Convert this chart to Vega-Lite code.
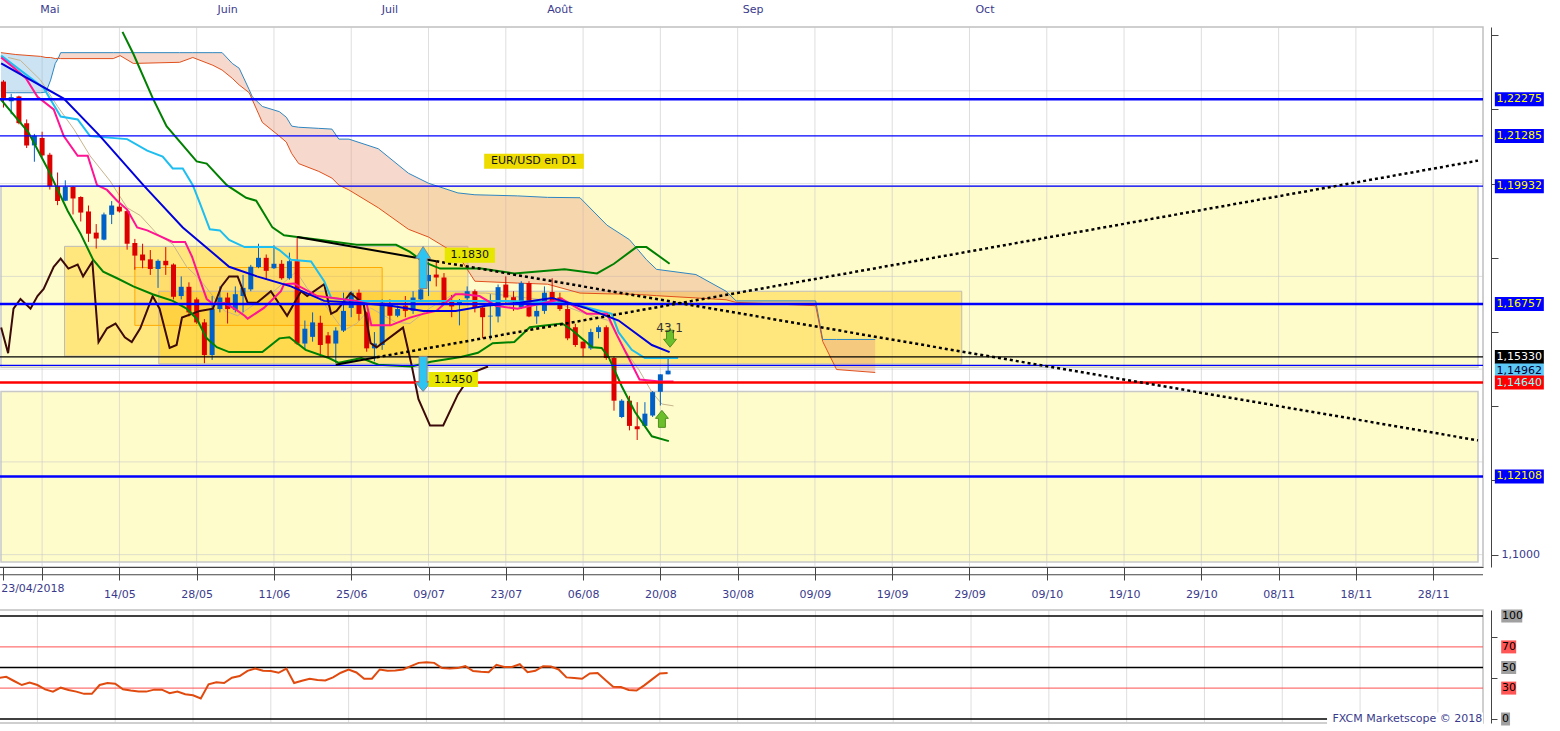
{
"$schema": "https://vega.github.io/schema/vega-lite/v6.json",
"padding": {"left": -7, "top": 2, "right": 0, "bottom": 0},
"background": "#FFFFFF",
"spacing": 43,
"bounds": "flush",
"config": {"view": {"stroke": "#C0C0C0", "strokeWidth": 1.5}, "aria": false},
"datasets": {
"zones": [{"i0": -0.32, "i1": 190.8, "v0": 1.1505, "v1": 1.19932}, {"i0": -0.32, "i1": 190.8, "v0": 1.09802, "v1": 1.144}],
"rects": [{"i0": 7.9, "i1": 60.1, "v0": 1.1535, "v1": 1.1831, "k": "g"}, {"i0": 20.1, "i1": 124.0, "v0": 1.1514, "v1": 1.171, "k": "g"}, {"i0": 17.0, "i1": 49.0, "v0": 1.1618, "v1": 1.1774, "k": "o"}],
"hgrid": [{"v": 1.1}, {"v": 1.125}, {"v": 1.15}, {"v": 1.175}, {"v": 1.2}, {"v": 1.225}],
"vgrid": [{"i": 5}, {"i": 15}, {"i": 25}, {"i": 35}, {"i": 45}, {"i": 55}, {"i": 65}, {"i": 75}, {"i": 85}, {"i": 95}, {"i": 105}, {"i": 115}, {"i": 125}, {"i": 135}, {"i": 145}, {"i": 155}, {"i": 165}, {"i": 175}, {"i": 185}],
"months": [{"i": 6, "t": "Mai"}, {"i": 29, "t": "Juin"}, {"i": 50, "t": "Juil"}, {"i": 72, "t": "Août"}, {"i": 97, "t": "Sep"}, {"i": 127, "t": "Oct"}],
"cloud": [
{"g": "u", "i": -0.32, "a": 1.2245, "b": 1.2353}, {"g": "u", "i": 1.6, "a": 1.2245, "b": 1.2348}, {"g": "u", "i": 4.8, "a": 1.2245, "b": 1.2343}, {"g": "u", "i": 5.5, "a": 1.2247, "b": 1.234}, {"g": "u", "i": 6.1, "a": 1.2279, "b": 1.234}, {"g": "u", "i": 6.7, "a": 1.2324, "b": 1.2337}, {"g": "u", "i": 7.1, "a": 1.2338, "b": 1.2338},
{"g": "d", "i": 7.1, "a": 1.2338, "b": 1.2338}, {"g": "d", "i": 7.4, "a": 1.2353, "b": 1.2337}, {"g": "d", "i": 14.2, "a": 1.2353, "b": 1.2337}, {"g": "d", "i": 15.1, "a": 1.2353, "b": 1.2345}, {"g": "d", "i": 16.8, "a": 1.2353, "b": 1.2324}, {"g": "d", "i": 22.8, "a": 1.2353, "b": 1.2327}, {"g": "d", "i": 24.5, "a": 1.2353, "b": 1.234}, {"g": "d", "i": 27.1, "a": 1.2353, "b": 1.2319}, {"g": "d", "i": 28.3, "a": 1.2353, "b": 1.2306}, {"g": "d", "i": 29.6, "a": 1.2324, "b": 1.2284}, {"g": "d", "i": 30.5, "a": 1.2311, "b": 1.2266}, {"g": "d", "i": 31.8, "a": 1.2253, "b": 1.2245}, {"g": "d", "i": 32.2, "a": 1.2234, "b": 1.2226}, {"g": "d", "i": 33.5, "a": 1.2208, "b": 1.2165}, {"g": "d", "i": 35.7, "a": 1.2194, "b": 1.2128}, {"g": "d", "i": 36.6, "a": 1.2179, "b": 1.2112}, {"g": "d", "i": 37.3, "a": 1.2155, "b": 1.2081}, {"g": "d", "i": 38.2, "a": 1.2152, "b": 1.2054}, {"g": "d", "i": 40.8, "a": 1.2149, "b": 1.2033}, {"g": "d", "i": 42.5, "a": 1.2147, "b": 1.2015}, {"g": "d", "i": 43.4, "a": 1.212, "b": 1.1996}, {"g": "d", "i": 44.7, "a": 1.212, "b": 1.1983}, {"g": "d", "i": 48.5, "a": 1.2094, "b": 1.1935}, {"g": "d", "i": 52.4, "a": 1.2028, "b": 1.1877}, {"g": "d", "i": 55.0, "a": 1.2001, "b": 1.1856}, {"g": "d", "i": 58.8, "a": 1.1975, "b": 1.1808}, {"g": "d", "i": 61.0, "a": 1.197, "b": 1.1737}, {"g": "d", "i": 66.5, "a": 1.1967, "b": 1.1732}, {"g": "d", "i": 70.4, "a": 1.1963, "b": 1.1729}, {"g": "d", "i": 74.6, "a": 1.1962, "b": 1.1705}, {"g": "d", "i": 78.1, "a": 1.1888, "b": 1.1703}, {"g": "d", "i": 81.0, "a": 1.1849, "b": 1.1702}, {"g": "d", "i": 83.2, "a": 1.1795, "b": 1.17}, {"g": "d", "i": 84.5, "a": 1.1769, "b": 1.1698}, {"g": "d", "i": 89.6, "a": 1.1755, "b": 1.1692}, {"g": "d", "i": 93.5, "a": 1.171, "b": 1.1687}, {"g": "d", "i": 94.8, "a": 1.1684, "b": 1.168}, {"g": "d", "i": 105.1, "a": 1.1684, "b": 1.1671}, {"g": "d", "i": 106.0, "a": 1.158, "b": 1.1575}, {"g": "d", "i": 107.8, "a": 1.158, "b": 1.1499}, {"g": "d", "i": 112.8, "a": 1.158, "b": 1.1491}],
"hl": [{"v": 1.22275, "k": "b2"}, {"v": 1.21285, "k": "b1"}, {"v": 1.19932, "k": "b1"}, {"v": 1.16757, "k": "b2"}, {"v": 1.1533, "k": "k"}, {"v": 1.151, "k": "b1"}, {"v": 1.1464, "k": "r"}, {"v": 1.12108, "k": "b2"}],
"ma": [{"i": -0.3, "v": 1.2324}, {"i": 7.8, "v": 1.2229}, {"i": 12.5, "v": 1.2128}, {"i": 18.1, "v": 1.1996}, {"i": 23.2, "v": 1.1882}, {"i": 29.2, "v": 1.1776}, {"i": 32.8, "v": 1.175}, {"i": 37.2, "v": 1.1723}, {"i": 41.5, "v": 1.1684}, {"i": 45.7, "v": 1.1679}, {"i": 50.1, "v": 1.1671}, {"i": 54.3, "v": 1.1657}, {"i": 58.5, "v": 1.1657}, {"i": 62.4, "v": 1.1671}, {"i": 66.8, "v": 1.1679}, {"i": 71.0, "v": 1.1692}, {"i": 75.3, "v": 1.1665}, {"i": 79.6, "v": 1.1631}, {"i": 83.9, "v": 1.1565}, {"i": 86.2, "v": 1.1546}],
"kij": [{"i": -0.3, "v": 1.2345}, {"i": 5.2, "v": 1.2258}, {"i": 7.4, "v": 1.2181}, {"i": 9.6, "v": 1.2173}, {"i": 11.2, "v": 1.2128}, {"i": 16.0, "v": 1.212}, {"i": 18.6, "v": 1.2089}, {"i": 20.6, "v": 1.2073}, {"i": 21.9, "v": 1.2041}, {"i": 23.2, "v": 1.2041}, {"i": 24.5, "v": 1.1996}, {"i": 25.4, "v": 1.1948}, {"i": 26.7, "v": 1.1877}, {"i": 28.0, "v": 1.1874}, {"i": 29.2, "v": 1.1848}, {"i": 31.2, "v": 1.1829}, {"i": 35.0, "v": 1.1829}, {"i": 35.7, "v": 1.1821}, {"i": 37.2, "v": 1.1795}, {"i": 39.8, "v": 1.179}, {"i": 41.5, "v": 1.1737}, {"i": 42.4, "v": 1.1692}, {"i": 45.7, "v": 1.1684}, {"i": 64.6, "v": 1.1684}, {"i": 73.2, "v": 1.1679}, {"i": 78.7, "v": 1.1649}, {"i": 79.6, "v": 1.1599}, {"i": 81.3, "v": 1.1552}, {"i": 83.0, "v": 1.153}, {"i": 87.3, "v": 1.153}],
"ten": [{"i": -0.3, "v": 1.234}, {"i": 1.3, "v": 1.2313}, {"i": 2.9, "v": 1.2284}, {"i": 4.4, "v": 1.2234}, {"i": 6.5, "v": 1.22}, {"i": 7.8, "v": 1.2128}, {"i": 9.6, "v": 1.2075}, {"i": 10.9, "v": 1.2075}, {"i": 12.1, "v": 1.1996}, {"i": 13.4, "v": 1.1983}, {"i": 14.7, "v": 1.1954}, {"i": 16.0, "v": 1.193}, {"i": 17.3, "v": 1.1882}, {"i": 18.6, "v": 1.1874}, {"i": 21.9, "v": 1.1843}, {"i": 23.5, "v": 1.1843}, {"i": 24.4, "v": 1.1803}, {"i": 25.4, "v": 1.1742}, {"i": 26.3, "v": 1.1689}, {"i": 27.1, "v": 1.1676}, {"i": 28.6, "v": 1.1678}, {"i": 29.9, "v": 1.1663}, {"i": 31.2, "v": 1.1644}, {"i": 31.6, "v": 1.1636}, {"i": 33.7, "v": 1.1665}, {"i": 35.9, "v": 1.171}, {"i": 36.3, "v": 1.1729}, {"i": 37.6, "v": 1.1731}, {"i": 40.6, "v": 1.1697}, {"i": 45.7, "v": 1.1684}, {"i": 47.0, "v": 1.1676}, {"i": 47.6, "v": 1.1618}, {"i": 50.1, "v": 1.1618}, {"i": 52.6, "v": 1.1639}, {"i": 54.3, "v": 1.1649}, {"i": 56.0, "v": 1.1657}, {"i": 58.5, "v": 1.1702}, {"i": 59.4, "v": 1.1702}, {"i": 61.6, "v": 1.1697}, {"i": 63.7, "v": 1.1671}, {"i": 66.5, "v": 1.1663}, {"i": 72.3, "v": 1.1689}, {"i": 75.5, "v": 1.1649}, {"i": 78.1, "v": 1.1649}, {"i": 79.4, "v": 1.1591}, {"i": 80.9, "v": 1.153}, {"i": 82.3, "v": 1.1472}, {"i": 84.9, "v": 1.1467}, {"i": 86.7, "v": 1.1467}],
"bbu": [{"i": 15.4, "v": 1.2409}, {"i": 16.8, "v": 1.235}, {"i": 19.3, "v": 1.2231}, {"i": 21.1, "v": 1.2155}, {"i": 25.0, "v": 1.206}, {"i": 26.3, "v": 1.2054}, {"i": 28.9, "v": 1.1996}, {"i": 31.4, "v": 1.1962}, {"i": 32.7, "v": 1.1954}, {"i": 34.8, "v": 1.1882}, {"i": 36.3, "v": 1.1861}, {"i": 38.0, "v": 1.1856}, {"i": 41.1, "v": 1.1848}, {"i": 45.7, "v": 1.1835}, {"i": 50.8, "v": 1.1835}, {"i": 52.6, "v": 1.1816}, {"i": 54.3, "v": 1.179}, {"i": 56.5, "v": 1.1771}, {"i": 61.8, "v": 1.1771}, {"i": 66.1, "v": 1.1758}, {"i": 72.6, "v": 1.1769}, {"i": 76.8, "v": 1.1758}, {"i": 79.0, "v": 1.1784}, {"i": 81.9, "v": 1.1829}, {"i": 83.2, "v": 1.1829}, {"i": 86.2, "v": 1.1784}],
"bbl": [{"i": -0.3, "v": 1.2226}, {"i": 3.2, "v": 1.2139}, {"i": 5.7, "v": 1.2041}, {"i": 8.3, "v": 1.1927}, {"i": 10.0, "v": 1.1864}, {"i": 11.6, "v": 1.1795}, {"i": 12.9, "v": 1.1763}, {"i": 14.7, "v": 1.1745}, {"i": 16.8, "v": 1.1723}, {"i": 19.3, "v": 1.1702}, {"i": 21.9, "v": 1.1684}, {"i": 23.7, "v": 1.1663}, {"i": 25.0, "v": 1.1636}, {"i": 26.3, "v": 1.1583}, {"i": 27.6, "v": 1.1559}, {"i": 29.2, "v": 1.1546}, {"i": 33.5, "v": 1.1546}, {"i": 35.7, "v": 1.1583}, {"i": 37.0, "v": 1.1586}, {"i": 39.1, "v": 1.1552}, {"i": 42.1, "v": 1.153}, {"i": 43.4, "v": 1.1517}, {"i": 46.3, "v": 1.153}, {"i": 48.5, "v": 1.1512}, {"i": 52.8, "v": 1.1507}, {"i": 55.3, "v": 1.152}, {"i": 59.2, "v": 1.1533}, {"i": 61.4, "v": 1.1544}, {"i": 63.3, "v": 1.157}, {"i": 66.1, "v": 1.1573}, {"i": 68.1, "v": 1.1613}, {"i": 72.3, "v": 1.1623}, {"i": 73.6, "v": 1.1605}, {"i": 76.2, "v": 1.1559}, {"i": 77.4, "v": 1.1557}, {"i": 78.3, "v": 1.1533}, {"i": 80.0, "v": 1.1454}, {"i": 81.7, "v": 1.1385}, {"i": 83.9, "v": 1.1319}, {"i": 86.1, "v": 1.1306}],
"chk": [{"i": -0.3, "v": 1.1612}, {"i": 0.6, "v": 1.1543}, {"i": 1.3, "v": 1.1663}, {"i": 2.2, "v": 1.1689}, {"i": 3.5, "v": 1.1663}, {"i": 4.4, "v": 1.1697}, {"i": 5.2, "v": 1.1716}, {"i": 6.5, "v": 1.1776}, {"i": 7.4, "v": 1.1798}, {"i": 8.4, "v": 1.1771}, {"i": 9.6, "v": 1.1782}, {"i": 10.3, "v": 1.175}, {"i": 11.5, "v": 1.179}, {"i": 12.3, "v": 1.1573}, {"i": 13.4, "v": 1.161}, {"i": 14.5, "v": 1.1623}, {"i": 15.7, "v": 1.1586}, {"i": 16.6, "v": 1.1573}, {"i": 17.7, "v": 1.161}, {"i": 19.3, "v": 1.1697}, {"i": 20.2, "v": 1.1663}, {"i": 21.5, "v": 1.1557}, {"i": 22.4, "v": 1.1565}, {"i": 23.1, "v": 1.1639}, {"i": 25.4, "v": 1.1657}, {"i": 27.1, "v": 1.1663}, {"i": 28.2, "v": 1.1723}, {"i": 29.2, "v": 1.175}, {"i": 30.3, "v": 1.175}, {"i": 31.6, "v": 1.1679}, {"i": 32.8, "v": 1.1679}, {"i": 34.6, "v": 1.171}, {"i": 36.7, "v": 1.1644}, {"i": 38.5, "v": 1.171}, {"i": 39.3, "v": 1.1697}, {"i": 41.5, "v": 1.1729}, {"i": 42.4, "v": 1.1649}, {"i": 43.1, "v": 1.1657}, {"i": 44.9, "v": 1.1705}, {"i": 46.6, "v": 1.1676}, {"i": 47.5, "v": 1.157}, {"i": 48.3, "v": 1.1559}, {"i": 51.7, "v": 1.1612}, {"i": 52.8, "v": 1.1512}, {"i": 53.7, "v": 1.1419}, {"i": 55.2, "v": 1.1348}, {"i": 56.9, "v": 1.1348}, {"i": 58.8, "v": 1.1432}, {"i": 60.7, "v": 1.1491}, {"i": 62.7, "v": 1.1507}],
"tan": [{"i": 0.6, "v": 1.234}, {"i": 2.2, "v": 1.2332}, {"i": 4.8, "v": 1.2279}, {"i": 7.0, "v": 1.2208}, {"i": 9.1, "v": 1.2147}, {"i": 11.2, "v": 1.2075}, {"i": 13.8, "v": 1.2007}, {"i": 16.0, "v": 1.1935}, {"i": 17.7, "v": 1.1914}, {"i": 19.9, "v": 1.1864}, {"i": 21.9, "v": 1.1837}, {"i": 23.7, "v": 1.1776}, {"i": 25.4, "v": 1.1742}, {"i": 28.6, "v": 1.1657}, {"i": 30.3, "v": 1.1644}, {"i": 35.0, "v": 1.171}, {"i": 37.9, "v": 1.1763}, {"i": 39.3, "v": 1.1718}, {"i": 41.5, "v": 1.1676}, {"i": 44.0, "v": 1.1604}, {"i": 45.7, "v": 1.1623}, {"i": 47.5, "v": 1.1665}, {"i": 50.8, "v": 1.1626}, {"i": 52.6, "v": 1.1623}, {"i": 55.2, "v": 1.1665}, {"i": 58.5, "v": 1.1705}, {"i": 62.4, "v": 1.1705}, {"i": 71.0, "v": 1.1684}, {"i": 75.3, "v": 1.1649}, {"i": 78.3, "v": 1.1631}, {"i": 80.4, "v": 1.1552}, {"i": 82.2, "v": 1.1499}, {"i": 83.9, "v": 1.1438}, {"i": 85.2, "v": 1.1406}, {"i": 86.7, "v": 1.1401}],
"trend": [{"t": "t1", "p": "s", "i": 38.0, "v": 1.1856}, {"t": "t1", "p": "s", "i": 56.0, "v": 1.1791}, {"t": "t1", "p": "d", "i": 56.0, "v": 1.1791}, {"t": "t1", "p": "d", "i": 190.8, "v": 1.1308}, {"t": "t2", "p": "s", "i": 43.0, "v": 1.1512}, {"t": "t2", "p": "s", "i": 48.3, "v": 1.1532}, {"t": "t2", "p": "d", "i": 48.3, "v": 1.1532}, {"t": "t2", "p": "d", "i": 190.8, "v": 1.2062}],
"candles": [
{"i":0,"o":1.2275,"h":1.2279,"l":1.2205,"c":1.2231},{"i":1,"o":1.2222,"h":1.2242,"l":1.2187,"c":1.2233},{"i":2,"o":1.2235,"h":1.2237,"l":1.216,"c":1.2163},{"i":3,"o":1.2163,"h":1.2173,"l":1.2096,"c":1.2103},{"i":4,"o":1.2103,"h":1.2134,"l":1.2059,"c":1.2129},{"i":5,"o":1.2123,"h":1.214,"l":1.2072,"c":1.2076},{"i":6,"o":1.2078,"h":1.2083,"l":1.1984,"c":1.1993},{"i":7,"o":1.1993,"h":1.203,"l":1.1942,"c":1.1953},{"i":8,"o":1.1954,"h":1.2009,"l":1.1953,"c":1.1991},{"i":9,"o":1.1991,"h":1.1993,"l":1.1917,"c":1.196},
{"i":10,"o":1.1964,"h":1.1966,"l":1.1898,"c":1.1922},{"i":11,"o":1.1925,"h":1.1941,"l":1.1843,"c":1.1865},{"i":12,"o":1.1868,"h":1.1891,"l":1.1825,"c":1.1852},{"i":13,"o":1.1849,"h":1.1922,"l":1.1847,"c":1.1917},{"i":14,"o":1.1916,"h":1.1953,"l":1.1891,"c":1.1941},{"i":15,"o":1.1938,"h":1.1995,"l":1.1922,"c":1.1925},{"i":16,"o":1.1926,"h":1.1931,"l":1.1822,"c":1.1838},{"i":17,"o":1.184,"h":1.1851,"l":1.1768,"c":1.1806},{"i":18,"o":1.1809,"h":1.1838,"l":1.1772,"c":1.1793},{"i":19,"o":1.1796,"h":1.1821,"l":1.1754,"c":1.177},
{"i":20,"o":1.177,"h":1.1796,"l":1.1719,"c":1.1792},{"i":21,"o":1.1792,"h":1.1829,"l":1.1754,"c":1.178},{"i":22,"o":1.1782,"h":1.1785,"l":1.1688,"c":1.1695},{"i":23,"o":1.1697,"h":1.175,"l":1.1688,"c":1.1722},{"i":24,"o":1.1722,"h":1.1734,"l":1.1642,"c":1.1653},{"i":25,"o":1.1688,"h":1.1693,"l":1.1622,"c":1.1626},{"i":26,"o":1.1626,"h":1.1635,"l":1.1516,"c":1.1538},{"i":27,"o":1.1538,"h":1.1697,"l":1.1525,"c":1.1663},{"i":28,"o":1.1662,"h":1.1723,"l":1.1653,"c":1.1693},{"i":29,"o":1.1693,"h":1.1706,"l":1.1623,"c":1.1662},
{"i":30,"o":1.166,"h":1.1723,"l":1.1653,"c":1.1702},{"i":31,"o":1.1697,"h":1.1754,"l":1.1653,"c":1.1719},{"i":32,"o":1.1715,"h":1.1781,"l":1.171,"c":1.1776},{"i":33,"o":1.1775,"h":1.1838,"l":1.1772,"c":1.18},{"i":34,"o":1.18,"h":1.1809,"l":1.1741,"c":1.1765},{"i":35,"o":1.1772,"h":1.1834,"l":1.177,"c":1.1784},{"i":36,"o":1.1784,"h":1.1794,"l":1.1741,"c":1.1745},{"i":37,"o":1.1745,"h":1.1814,"l":1.1741,"c":1.1791},{"i":38,"o":1.1791,"h":1.1856,"l":1.1565,"c":1.1569},{"i":39,"o":1.1569,"h":1.1631,"l":1.1552,"c":1.1609},
{"i":40,"o":1.1587,"h":1.1653,"l":1.1574,"c":1.1626},{"i":41,"o":1.1625,"h":1.1644,"l":1.1534,"c":1.1565},{"i":42,"o":1.1591,"h":1.16,"l":1.1534,"c":1.1569},{"i":43,"o":1.1569,"h":1.1613,"l":1.1516,"c":1.1604},{"i":44,"o":1.1604,"h":1.1706,"l":1.16,"c":1.1657},{"i":45,"o":1.1665,"h":1.171,"l":1.164,"c":1.1706},{"i":46,"o":1.1706,"h":1.1715,"l":1.1631,"c":1.1649},{"i":47,"o":1.1653,"h":1.1655,"l":1.1547,"c":1.1556},{"i":48,"o":1.1556,"h":1.16,"l":1.1521,"c":1.1569},{"i":49,"o":1.1565,"h":1.1688,"l":1.1552,"c":1.1679},
{"i":50,"o":1.1675,"h":1.1688,"l":1.1618,"c":1.1644},{"i":51,"o":1.1644,"h":1.1671,"l":1.164,"c":1.1662},{"i":52,"o":1.1671,"h":1.1697,"l":1.164,"c":1.1657},{"i":53,"o":1.1657,"h":1.171,"l":1.1649,"c":1.1693},{"i":54,"o":1.1688,"h":1.1729,"l":1.1684,"c":1.1715},{"i":55,"o":1.1737,"h":1.179,"l":1.1697,"c":1.1754},{"i":56,"o":1.1755,"h":1.179,"l":1.1723,"c":1.1747},{"i":57,"o":1.1747,"h":1.1759,"l":1.1675,"c":1.1679},{"i":58,"o":1.1683,"h":1.17,"l":1.164,"c":1.1669},{"i":59,"o":1.1675,"h":1.1689,"l":1.1618,"c":1.1684},
{"i":60,"o":1.1691,"h":1.1723,"l":1.1684,"c":1.171},{"i":61,"o":1.171,"h":1.1715,"l":1.1653,"c":1.1666},{"i":62,"o":1.1666,"h":1.1671,"l":1.1583,"c":1.164},{"i":63,"o":1.1642,"h":1.1702,"l":1.1578,"c":1.1644},{"i":64,"o":1.1642,"h":1.1728,"l":1.1626,"c":1.1721},{"i":65,"o":1.1728,"h":1.175,"l":1.1679,"c":1.1693},{"i":66,"o":1.1694,"h":1.171,"l":1.1657,"c":1.1684},{"i":67,"o":1.1666,"h":1.1737,"l":1.1662,"c":1.1732},{"i":68,"o":1.1732,"h":1.1737,"l":1.164,"c":1.1642},{"i":69,"o":1.1642,"h":1.1671,"l":1.1622,"c":1.1657},
{"i":70,"o":1.1657,"h":1.1723,"l":1.1649,"c":1.1706},{"i":71,"o":1.1708,"h":1.1745,"l":1.1675,"c":1.1684},{"i":72,"o":1.1693,"h":1.1706,"l":1.1657,"c":1.1662},{"i":73,"o":1.1662,"h":1.1675,"l":1.1578,"c":1.1583},{"i":74,"o":1.1613,"h":1.1622,"l":1.156,"c":1.1565},{"i":75,"o":1.1574,"h":1.1575,"l":1.1534,"c":1.1556},{"i":76,"o":1.1556,"h":1.1609,"l":1.1552,"c":1.16},{"i":77,"o":1.16,"h":1.1618,"l":1.1583,"c":1.1613},{"i":78,"o":1.1613,"h":1.1618,"l":1.1525,"c":1.153},{"i":79,"o":1.153,"h":1.1534,"l":1.1388,"c":1.1415},
{"i":80,"o":1.1371,"h":1.1419,"l":1.1368,"c":1.1415},{"i":81,"o":1.1415,"h":1.1428,"l":1.1335,"c":1.1347},{"i":82,"o":1.1346,"h":1.1411,"l":1.1309,"c":1.1338},{"i":83,"o":1.1347,"h":1.1411,"l":1.1345,"c":1.138},{"i":84,"o":1.1375,"h":1.1441,"l":1.1371,"c":1.1438},{"i":85,"o":1.1439,"h":1.1486,"l":1.1402,"c":1.1486},{"i":86,"o":1.1486,"h":1.1532,"l":1.1486,"c":1.1496}],
"plabels": [{"v": 1.22275, "t": "1,22275", "k": "blue"}, {"v": 1.21285, "t": "1,21285", "k": "blue"}, {"v": 1.19932, "t": "1,19932", "k": "blue"}, {"v": 1.16757, "t": "1,16757", "k": "blue"}, {"v": 1.1533, "t": "1,15330", "k": "black"}, {"v": 1.14962, "t": "1,14962", "k": "cyan"}, {"v": 1.1464, "t": "1,14640", "k": "red"}, {"v": 1.12108, "t": "1,12108", "k": "blue"}],
"ann": [{"i0": 57.1, "i1": 63.6, "ic": 60.35, "v": 1.1807, "t": "1.1830", "k": "yel"}, {"i0": 55.0, "i1": 61.4, "ic": 58.2, "v": 1.1472, "t": "1.1450", "k": "yel"}, {"i0": 62.2, "i1": 75.1, "ic": 68.65, "v": 1.206, "t": "EUR/USD en D1", "k": "yel2"}],
"rsi": [{"i":0,"r":39.7},{"i":1,"r":41.0},{"i":2,"r":36.9},{"i":3,"r":33.0},{"i":4,"r":35.3},{"i":5,"r":33.0},{"i":6,"r":28.8},{"i":7,"r":26.6},{"i":8,"r":30.4},{"i":9,"r":28.2},{"i":10,"r":26.6},{"i":11,"r":24.4},{"i":12,"r":24.4},{"i":13,"r":33.0},{"i":14,"r":34.9},{"i":15,"r":34.3},{"i":16,"r":28.8},{"i":17,"r":27.6},{"i":18,"r":26.6},{"i":19,"r":26.6},{"i":20,"r":28.5},{"i":21,"r":28.5},{"i":22,"r":25.0},{"i":23,"r":26.6},{"i":24,"r":24.0},{"i":25,"r":23.1},{"i":26,"r":19.9},{"i":27,"r":33.7},{"i":28,"r":35.6},{"i":29,"r":34.9},{"i":30,"r":40.1},{"i":31,"r":41.7},{"i":32,"r":46.8},{"i":33,"r":49.0},{"i":34,"r":46.8},{"i":35,"r":46.5},{"i":36,"r":44.9},{"i":37,"r":49.0},{"i":38,"r":34.9},{"i":39,"r":37.2},{"i":40,"r":39.1},{"i":41,"r":37.8},{"i":42,"r":37.5},{"i":43,"r":40.4},{"i":44,"r":44.9},{"i":45,"r":48.1},{"i":46,"r":45.2},{"i":47,"r":39.1},{"i":48,"r":39.1},{"i":49,"r":48.1},{"i":50,"r":46.8},{"i":51,"r":47.1},{"i":52,"r":48.1},{"i":53,"r":51.3},{"i":54,"r":54.5},{"i":55,"r":55.1},{"i":56,"r":54.5},{"i":57,"r":49.4},{"i":58,"r":49.0},{"i":59,"r":49.4},{"i":60,"r":51.3},{"i":61,"r":46.5},{"i":62,"r":45.8},{"i":63,"r":45.5},{"i":64,"r":52.6},{"i":65,"r":50.6},{"i":66,"r":50.6},{"i":67,"r":53.2},{"i":68,"r":45.5},{"i":69,"r":46.8},{"i":70,"r":51.3},{"i":71,"r":51.0},{"i":72,"r":48.1},{"i":73,"r":40.4},{"i":74,"r":39.7},{"i":75,"r":39.1},{"i":76,"r":44.2},{"i":77,"r":44.6},{"i":78,"r":37.8},{"i":79,"r":31.4},{"i":80,"r":31.1},{"i":81,"r":28.2},{"i":82,"r":27.6},{"i":83,"r":32.7},{"i":84,"r":38.5},{"i":85,"r":44.2},{"i":86,"r":44.6}],
"rlev": [{"lv": 100, "k": "k"}, {"lv": 70, "k": "r"}, {"lv": 50, "k": "k"}, {"lv": 30, "k": "r"}, {"lv": 0, "k": "k"}],
"rlabels": [{"lv": 100, "t": "100", "k": "gray"}, {"lv": 70, "t": "70", "k": "rred"}, {"lv": 50, "t": "50", "k": "gray"}, {"lv": 30, "t": "30", "k": "rred"}, {"lv": 0, "t": "0", "k": "gray"}]
},
"vconcat": [
{
"width": 1487, "height": 540,
"layer": [
{"data": {"name": "zones"}, "mark": {"type": "rect", "fill": "#FFFCCC", "stroke": "#C8C8C8", "strokeWidth": 1.5},
 "encoding": {"x": {"field": "i0", "type": "quantitative", "scale": {"domain": [-0.32, 190.8], "nice": false, "zero": false}}, "x2": {"field": "i1"},
  "y": {"field": "v0", "type": "quantitative", "scale": {"domain": [1.09802, 1.24087], "nice": false, "zero": false}}, "y2": {"field": "v1"}}},
{"data": {"name": "hgrid"}, "mark": {"type": "rule", "color": "#C8C8C8", "opacity": 0.6, "strokeWidth": 1},
 "encoding": {"y": {"field": "v", "type": "quantitative", "scale": {"domain": [1.09802, 1.24087], "nice": false, "zero": false},
  "axis": {"orient": "right", "offset": 8, "title": null, "grid": false, "labelOverlap": false,
   "values": [1.1, 1.1025, 1.105, 1.1075, 1.11, 1.1125, 1.115, 1.1175, 1.12, 1.1225, 1.125, 1.1275, 1.13, 1.1325, 1.135, 1.1375, 1.14, 1.1425, 1.145, 1.1475, 1.15, 1.1525, 1.155, 1.1575, 1.16, 1.1625, 1.165, 1.1675, 1.17, 1.1725, 1.175, 1.1775, 1.18, 1.1825, 1.185, 1.1875, 1.19, 1.1925, 1.195, 1.1975, 1.2, 1.2025, 1.205, 1.2075, 1.21, 1.2125, 1.215, 1.2175, 1.22, 1.2225, 1.225, 1.2275, 1.23, 1.2325, 1.235, 1.2375, 1.24],
   "domainColor": "#444444", "tickColor": "#444444", "tickSize": 7,
   "labelExpr": "(abs(datum.value*40 - round(datum.value*40)) < 0.001 && abs(datum.value-1.15) > 0.001 && abs(datum.value-1.2) > 0.001) ? replace(format(datum.value, '.4f'), '.', ',') : ''",
   "labelColor": "#3A3A8C", "labelFont": "DejaVu Sans", "labelFontSize": 11, "labelPadding": 3}}}},
{"data": {"name": "vgrid"}, "mark": {"type": "rule", "color": "#C8C8C8", "opacity": 0.6, "strokeWidth": 1},
 "encoding": {"x": {"field": "i", "type": "quantitative", "scale": {"domain": [-0.32, 190.8], "nice": false, "zero": false},
  "axis": {"orient": "bottom", "offset": 0, "title": null, "grid": false,
   "values": [0, 5, 15, 25, 35, 45, 55, 65, 75, 85, 95, 105, 115, 125, 135, 145, 155, 165, 175, 185],
   "domainColor": "#444444", "tickColor": "#444444", "tickSize": 13,
   "labelExpr": "(datum.value % 10 == 5 && datum.value >= 15) ? ['14/05','28/05','11/06','25/06','09/07','23/07','06/08','20/08','30/08','09/09','19/09','29/09','09/10','19/10','29/10','08/11','18/11','28/11'][(datum.value - 15) / 10] : ''",
   "labelOverlap": false, "labelColor": "#3A3A8C", "labelFont": "DejaVu Sans", "labelFontSize": 11, "labelPadding": 8}}}},
{"data": {"values": [{"f": 1}]}, "mark": {"type": "rule", "color": "#444444", "strokeWidth": 1},
 "encoding": {"y": {"datum": 1.09458, "type": "quantitative", "scale": {"domain": [1.09802, 1.24087], "nice": false, "zero": false}}}},
{"data": {"values": [{"t": "23/04/2018"}]}, "mark": {"type": "text", "font": "DejaVu Sans", "fontSize": 11, "color": "#3A3A8C", "align": "left", "baseline": "top"},
 "encoding": {"x": {"datum": -0.3, "type": "quantitative", "scale": {"domain": [-0.32, 190.8], "nice": false, "zero": false}},
  "y": {"datum": 1.09246, "type": "quantitative", "scale": {"domain": [1.09802, 1.24087], "nice": false, "zero": false}}, "text": {"field": "t", "type": "nominal"}}},
{"data": {"name": "rects"}, "transform": [{"filter": "datum.k == 'g'"}], "mark": {"type": "rect", "fill": "#FFC400", "fillOpacity": 0.38, "stroke": "#BBBBBB", "strokeWidth": 1},
 "encoding": {"x": {"field": "i0", "type": "quantitative", "scale": {"domain": [-0.32, 190.8], "nice": false, "zero": false}}, "x2": {"field": "i1"},
  "y": {"field": "v0", "type": "quantitative", "scale": {"domain": [1.09802, 1.24087], "nice": false, "zero": false}}, "y2": {"field": "v1"}}},
{"data": {"name": "rects"}, "transform": [{"filter": "datum.k == 'o'"}], "mark": {"type": "rect", "fill": "#FFA000", "fillOpacity": 0.12, "stroke": "#FFAA00", "strokeWidth": 1},
 "encoding": {"x": {"field": "i0", "type": "quantitative", "scale": {"domain": [-0.32, 190.8], "nice": false, "zero": false}}, "x2": {"field": "i1"},
  "y": {"field": "v0", "type": "quantitative", "scale": {"domain": [1.09802, 1.24087], "nice": false, "zero": false}}, "y2": {"field": "v1"}}},
{"data": {"name": "cloud"}, "transform": [{"filter": "datum.g == 'u'"}], "mark": {"type": "area", "color": "#7DB9DE", "opacity": 0.4},
 "encoding": {"x": {"field": "i", "type": "quantitative", "scale": {"domain": [-0.32, 190.8], "nice": false, "zero": false}},
  "y": {"field": "a", "type": "quantitative", "scale": {"domain": [1.09802, 1.24087], "nice": false, "zero": false}}, "y2": {"field": "b"}}},
{"data": {"name": "cloud"}, "transform": [{"filter": "datum.g == 'd'"}], "mark": {"type": "area", "color": "#E8A080", "opacity": 0.4},
 "encoding": {"x": {"field": "i", "type": "quantitative", "scale": {"domain": [-0.32, 190.8], "nice": false, "zero": false}},
  "y": {"field": "a", "type": "quantitative", "scale": {"domain": [1.09802, 1.24087], "nice": false, "zero": false}}, "y2": {"field": "b"}}},
{"data": {"name": "cloud"}, "mark": {"type": "line", "color": "#2E86C1", "strokeWidth": 1},
 "encoding": {"x": {"field": "i", "type": "quantitative", "scale": {"domain": [-0.32, 190.8], "nice": false, "zero": false}},
  "y": {"field": "a", "type": "quantitative", "scale": {"domain": [1.09802, 1.24087], "nice": false, "zero": false}}}},
{"data": {"name": "cloud"}, "mark": {"type": "line", "color": "#E0501E", "strokeWidth": 1},
 "encoding": {"x": {"field": "i", "type": "quantitative", "scale": {"domain": [-0.32, 190.8], "nice": false, "zero": false}},
  "y": {"field": "b", "type": "quantitative", "scale": {"domain": [1.09802, 1.24087], "nice": false, "zero": false}}}},
{"data": {"name": "tan"}, "mark": {"type": "line", "color": "#C8B48C", "strokeWidth": 1},
 "encoding": {"x": {"field": "i", "type": "quantitative", "scale": {"domain": [-0.32, 190.8], "nice": false, "zero": false}},
  "y": {"field": "v", "type": "quantitative", "scale": {"domain": [1.09802, 1.24087], "nice": false, "zero": false}}}},
{"data": {"name": "candles"}, "mark": {"type": "rule", "strokeWidth": 1},
 "encoding": {"x": {"field": "i", "type": "quantitative", "scale": {"domain": [-0.32, 190.8], "nice": false, "zero": false}},
  "y": {"field": "l", "type": "quantitative", "scale": {"domain": [1.09802, 1.24087], "nice": false, "zero": false}}, "y2": {"field": "h"},
  "color": {"condition": {"test": "datum.c >= datum.o", "value": "#0060C8"}, "value": "#DD0000"}}},
{"data": {"name": "candles"}, "mark": {"type": "bar", "width": 5},
 "encoding": {"x": {"field": "i", "type": "quantitative", "scale": {"domain": [-0.32, 190.8], "nice": false, "zero": false}},
  "y": {"field": "o", "type": "quantitative", "scale": {"domain": [1.09802, 1.24087], "nice": false, "zero": false}}, "y2": {"field": "c"},
  "color": {"condition": {"test": "datum.c >= datum.o", "value": "#0060C8"}, "value": "#DD0000"}}},
{"data": {"name": "chk"}, "mark": {"type": "line", "color": "#3D0A0A", "strokeWidth": 2},
 "encoding": {"x": {"field": "i", "type": "quantitative", "scale": {"domain": [-0.32, 190.8], "nice": false, "zero": false}},
  "y": {"field": "v", "type": "quantitative", "scale": {"domain": [1.09802, 1.24087], "nice": false, "zero": false}}}},
{"data": {"name": "bbu"}, "mark": {"type": "line", "color": "#008000", "strokeWidth": 2},
 "encoding": {"x": {"field": "i", "type": "quantitative", "scale": {"domain": [-0.32, 190.8], "nice": false, "zero": false}},
  "y": {"field": "v", "type": "quantitative", "scale": {"domain": [1.09802, 1.24087], "nice": false, "zero": false}}}},
{"data": {"name": "bbl"}, "mark": {"type": "line", "color": "#008000", "strokeWidth": 2},
 "encoding": {"x": {"field": "i", "type": "quantitative", "scale": {"domain": [-0.32, 190.8], "nice": false, "zero": false}},
  "y": {"field": "v", "type": "quantitative", "scale": {"domain": [1.09802, 1.24087], "nice": false, "zero": false}}}},
{"data": {"name": "kij"}, "mark": {"type": "line", "color": "#1EBEF0", "strokeWidth": 2},
 "encoding": {"x": {"field": "i", "type": "quantitative", "scale": {"domain": [-0.32, 190.8], "nice": false, "zero": false}},
  "y": {"field": "v", "type": "quantitative", "scale": {"domain": [1.09802, 1.24087], "nice": false, "zero": false}}}},
{"data": {"name": "ten"}, "mark": {"type": "line", "color": "#FF1493", "strokeWidth": 2},
 "encoding": {"x": {"field": "i", "type": "quantitative", "scale": {"domain": [-0.32, 190.8], "nice": false, "zero": false}},
  "y": {"field": "v", "type": "quantitative", "scale": {"domain": [1.09802, 1.24087], "nice": false, "zero": false}}}},
{"data": {"name": "ma"}, "mark": {"type": "line", "color": "#0000DD", "strokeWidth": 2},
 "encoding": {"x": {"field": "i", "type": "quantitative", "scale": {"domain": [-0.32, 190.8], "nice": false, "zero": false}},
  "y": {"field": "v", "type": "quantitative", "scale": {"domain": [1.09802, 1.24087], "nice": false, "zero": false}}}},
{"data": {"name": "hl"}, "transform": [{"filter": "datum.k == 'b2'"}], "mark": {"type": "rule", "color": "#0000FF", "strokeWidth": 2.5},
 "encoding": {"y": {"field": "v", "type": "quantitative", "scale": {"domain": [1.09802, 1.24087], "nice": false, "zero": false}}}},
{"data": {"name": "hl"}, "transform": [{"filter": "datum.k == 'b1'"}], "mark": {"type": "rule", "color": "#0000FF", "strokeWidth": 1.3},
 "encoding": {"y": {"field": "v", "type": "quantitative", "scale": {"domain": [1.09802, 1.24087], "nice": false, "zero": false}}}},
{"data": {"name": "hl"}, "transform": [{"filter": "datum.k == 'k'"}], "mark": {"type": "rule", "color": "#000000", "strokeWidth": 1.3},
 "encoding": {"y": {"field": "v", "type": "quantitative", "scale": {"domain": [1.09802, 1.24087], "nice": false, "zero": false}}}},
{"data": {"name": "hl"}, "transform": [{"filter": "datum.k == 'r'"}], "mark": {"type": "rule", "color": "#FF0000", "strokeWidth": 2.3},
 "encoding": {"y": {"field": "v", "type": "quantitative", "scale": {"domain": [1.09802, 1.24087], "nice": false, "zero": false}}}},
{"data": {"name": "trend"}, "transform": [{"filter": "datum.p == 's'"}], "mark": {"type": "line", "color": "#000000", "strokeWidth": 2},
 "encoding": {"x": {"field": "i", "type": "quantitative", "scale": {"domain": [-0.32, 190.8], "nice": false, "zero": false}},
  "y": {"field": "v", "type": "quantitative", "scale": {"domain": [1.09802, 1.24087], "nice": false, "zero": false}}, "detail": {"field": "t", "type": "nominal"}}},
{"data": {"name": "trend"}, "transform": [{"filter": "datum.p == 'd'"}], "mark": {"type": "line", "color": "#000000", "strokeWidth": 2.5, "strokeDash": [3, 3]},
 "encoding": {"x": {"field": "i", "type": "quantitative", "scale": {"domain": [-0.32, 190.8], "nice": false, "zero": false}},
  "y": {"field": "v", "type": "quantitative", "scale": {"domain": [1.09802, 1.24087], "nice": false, "zero": false}}, "detail": {"field": "t", "type": "nominal"}}},
{"data": {"values": [{"i": 54.3, "v": 1.1774}]}, "mark": {"type": "point", "shape": "M0,-1L0.36,-0.43L0.19,-0.43L0.19,1L-0.19,1L-0.19,-0.43L-0.36,-0.43Z", "size": 1764, "filled": true, "fill": "#2EC4F2", "stroke": "#888888", "strokeWidth": 1, "opacity": 1},
 "encoding": {"x": {"field": "i", "type": "quantitative", "scale": {"domain": [-0.32, 190.8], "nice": false, "zero": false}},
  "y": {"field": "v", "type": "quantitative", "scale": {"domain": [1.09802, 1.24087], "nice": false, "zero": false}}}},
{"data": {"values": [{"i": 54.3, "v": 1.1487}]}, "mark": {"type": "point", "shape": "M0,1L0.43,0.49L0.23,0.49L0.23,-1L-0.23,-1L-0.23,0.49L-0.43,0.49Z", "size": 1225, "filled": true, "fill": "#2EC4F2", "stroke": "#888888", "strokeWidth": 1, "opacity": 1},
 "encoding": {"x": {"field": "i", "type": "quantitative", "scale": {"domain": [-0.32, 190.8], "nice": false, "zero": false}},
  "y": {"field": "v", "type": "quantitative", "scale": {"domain": [1.09802, 1.24087], "nice": false, "zero": false}}}},
{"data": {"values": [{"i": 86.25, "v": 1.1582}]}, "mark": {"type": "point", "shape": "M0,1L0.76,0.06L0.41,0.06L0.41,-1L-0.41,-1L-0.41,0.06L-0.76,0.06Z", "size": 289, "filled": true, "fill": "#6CBF2A", "stroke": "#4F8F1F", "strokeWidth": 1, "opacity": 1},
 "encoding": {"x": {"field": "i", "type": "quantitative", "scale": {"domain": [-0.32, 190.8], "nice": false, "zero": false}},
  "y": {"field": "v", "type": "quantitative", "scale": {"domain": [1.09802, 1.24087], "nice": false, "zero": false}}}},
{"data": {"values": [{"i": 85.2, "v": 1.1366}]}, "mark": {"type": "point", "shape": "M0,-1L0.76,-0.06L0.41,-0.06L0.41,1L-0.41,1L-0.41,-0.06L-0.76,-0.06Z", "size": 289, "filled": true, "fill": "#6CBF2A", "stroke": "#4F8F1F", "strokeWidth": 1, "opacity": 1},
 "encoding": {"x": {"field": "i", "type": "quantitative", "scale": {"domain": [-0.32, 190.8], "nice": false, "zero": false}},
  "y": {"field": "v", "type": "quantitative", "scale": {"domain": [1.09802, 1.24087], "nice": false, "zero": false}}}},
{"data": {"values": [{"i": 86.2, "v": 1.1611, "t": "43,1"}]}, "mark": {"type": "text", "font": "DejaVu Sans", "fontSize": 12, "color": "#333333", "align": "center", "baseline": "middle"},
 "encoding": {"x": {"field": "i", "type": "quantitative", "scale": {"domain": [-0.32, 190.8], "nice": false, "zero": false}},
  "y": {"field": "v", "type": "quantitative", "scale": {"domain": [1.09802, 1.24087], "nice": false, "zero": false}}, "text": {"field": "t", "type": "nominal"}}},
{"data": {"name": "ann"}, "mark": {"type": "bar", "orient": "horizontal", "size": 15},
 "encoding": {"x": {"field": "i0", "type": "quantitative", "scale": {"domain": [-0.32, 190.8], "nice": false, "zero": false}}, "x2": {"field": "i1"},
  "y": {"field": "v", "type": "quantitative", "scale": {"domain": [1.09802, 1.24087], "nice": false, "zero": false}},
  "fill": {"field": "k", "type": "nominal", "scale": {"domain": ["blue", "black", "cyan", "red", "yel", "yel2"], "range": ["#0000FF", "#000000", "#5BC8F5", "#FF0000", "#E6E600", "#EEDC00"]}, "legend": null}}},
{"data": {"name": "ann"}, "mark": {"type": "text", "font": "DejaVu Sans", "fontSize": 11, "align": "center", "baseline": "middle"},
 "encoding": {"x": {"field": "ic", "type": "quantitative", "scale": {"domain": [-0.32, 190.8], "nice": false, "zero": false}},
  "y": {"field": "v", "type": "quantitative", "scale": {"domain": [1.09802, 1.24087], "nice": false, "zero": false}}, "text": {"field": "t", "type": "nominal"},
  "color": {"field": "k", "type": "nominal", "scale": {"domain": ["blue", "black", "cyan", "red", "yel", "yel2"], "range": ["#FFFF00", "#FFFFFF", "#000033", "#88FFFF", "#111111", "#111111"]}, "legend": null}}},
{"data": {"name": "plabels"}, "mark": {"type": "point", "shape": "M-1,-0.2857L1,-0.2857L1,0.2857L-1,0.2857Z", "size": 2401, "filled": true, "opacity": 1, "strokeWidth": 0},
 "encoding": {"x": {"datum": 196.15, "type": "quantitative", "scale": {"domain": [-0.32, 190.8], "nice": false, "zero": false}},
  "y": {"field": "v", "type": "quantitative", "scale": {"domain": [1.09802, 1.24087], "nice": false, "zero": false}},
  "fill": {"field": "k", "type": "nominal", "scale": {"domain": ["blue", "black", "cyan", "red", "yel", "yel2"], "range": ["#0000FF", "#000000", "#5BC8F5", "#FF0000", "#E6E600", "#EEDC00"]}, "legend": null}}},
{"data": {"name": "plabels"}, "mark": {"type": "text", "font": "DejaVu Sans", "fontSize": 11, "align": "left", "baseline": "middle"},
 "encoding": {"x": {"datum": 193.2, "type": "quantitative", "scale": {"domain": [-0.32, 190.8], "nice": false, "zero": false}},
  "y": {"field": "v", "type": "quantitative", "scale": {"domain": [1.09802, 1.24087], "nice": false, "zero": false}}, "text": {"field": "t", "type": "nominal"},
  "color": {"field": "k", "type": "nominal", "scale": {"domain": ["blue", "black", "cyan", "red", "yel", "yel2"], "range": ["#FFFF00", "#FFFFFF", "#000033", "#88FFFF", "#111111", "#111111"]}, "legend": null}}},
{"data": {"name": "months"}, "mark": {"type": "text", "font": "DejaVu Sans", "fontSize": 11, "color": "#3A3A8C", "align": "center", "baseline": "top"},
 "encoding": {"x": {"field": "i", "type": "quantitative", "scale": {"domain": [-0.32, 190.8], "nice": false, "zero": false}},
  "y": {"datum": 1.24854, "type": "quantitative", "scale": {"domain": [1.09802, 1.24087], "nice": false, "zero": false}}, "text": {"field": "t", "type": "nominal"}}}
]
},
{
"width": 1487, "height": 113,
"layer": [
{"data": {"name": "vgrid"}, "mark": {"type": "rule", "color": "#C8C8C8", "opacity": 0.6, "strokeWidth": 1},
 "encoding": {"x": {"field": "i", "type": "quantitative", "scale": {"domain": [-0.32, 190.8], "nice": false, "zero": false}, "axis": null}}},
{"data": {"name": "rlev"}, "transform": [{"filter": "datum.k == 'k'"}], "mark": {"type": "rule", "color": "#000000", "strokeWidth": 1.5},
 "encoding": {"y": {"field": "lv", "type": "quantitative", "scale": {"domain": [-3.88, 105.83], "nice": false, "zero": false},
  "axis": {"orient": "right", "offset": 8, "title": null, "grid": false, "labels": false,
   "values": [0, 5, 10, 15, 20, 25, 30, 35, 40, 45, 50, 55, 60, 65, 70, 75, 80, 85, 90, 95, 100],
   "domainColor": "#444444", "tickColor": "#444444", "tickSize": 6}}}},
{"data": {"name": "rlev"}, "transform": [{"filter": "datum.k == 'r'"}], "mark": {"type": "rule", "color": "#FF5050", "strokeWidth": 1},
 "encoding": {"y": {"field": "lv", "type": "quantitative", "scale": {"domain": [-3.88, 105.83], "nice": false, "zero": false}}}},
{"data": {"name": "rsi"}, "mark": {"type": "line", "color": "#E04A0E", "strokeWidth": 2},
 "encoding": {"x": {"field": "i", "type": "quantitative", "scale": {"domain": [-0.32, 190.8], "nice": false, "zero": false}, "axis": null},
  "y": {"field": "r", "type": "quantitative", "scale": {"domain": [-3.88, 105.83], "nice": false, "zero": false}}}},
{"data": {"name": "rlabels"}, "transform": [{"filter": "datum.t == '100'"}], "mark": {"type": "point", "shape": "M-1,-0.62L1,-0.62L1,0.62L-1,0.62Z", "size": 441, "filled": true, "opacity": 1, "strokeWidth": 0, "fill": "#A0A0A0"},
 "encoding": {"x": {"datum": 194.5, "type": "quantitative", "scale": {"domain": [-0.32, 190.8], "nice": false, "zero": false}, "axis": null},
  "y": {"field": "lv", "type": "quantitative", "scale": {"domain": [-3.88, 105.83], "nice": false, "zero": false}}}},
{"data": {"name": "rlabels"}, "transform": [{"filter": "datum.t == '50'"}], "mark": {"type": "point", "shape": "M-1,-0.867L1,-0.867L1,0.867L-1,0.867Z", "size": 225, "filled": true, "opacity": 1, "strokeWidth": 0, "fill": "#A0A0A0"},
 "encoding": {"x": {"datum": 194.1, "type": "quantitative", "scale": {"domain": [-0.32, 190.8], "nice": false, "zero": false}, "axis": null},
  "y": {"field": "lv", "type": "quantitative", "scale": {"domain": [-3.88, 105.83], "nice": false, "zero": false}}}},
{"data": {"name": "rlabels"}, "transform": [{"filter": "datum.k == 'rred'"}], "mark": {"type": "point", "shape": "M-1,-0.867L1,-0.867L1,0.867L-1,0.867Z", "size": 225, "filled": true, "opacity": 1, "strokeWidth": 0, "fill": "#FF5555"},
 "encoding": {"x": {"datum": 194.1, "type": "quantitative", "scale": {"domain": [-0.32, 190.8], "nice": false, "zero": false}, "axis": null},
  "y": {"field": "lv", "type": "quantitative", "scale": {"domain": [-3.88, 105.83], "nice": false, "zero": false}}}},
{"data": {"name": "rlabels"}, "transform": [{"filter": "datum.t == '0'"}], "mark": {"type": "point", "shape": "M-0.69,-1L0.69,-1L0.69,1L-0.69,1Z", "size": 169, "filled": true, "opacity": 1, "strokeWidth": 0, "fill": "#A0A0A0"},
 "encoding": {"x": {"datum": 193.7, "type": "quantitative", "scale": {"domain": [-0.32, 190.8], "nice": false, "zero": false}, "axis": null},
  "y": {"field": "lv", "type": "quantitative", "scale": {"domain": [-3.88, 105.83], "nice": false, "zero": false}}}},
{"data": {"name": "rlabels"}, "mark": {"type": "text", "font": "DejaVu Sans", "fontSize": 11, "align": "left", "baseline": "middle", "color": "#000000"},
 "encoding": {"x": {"datum": 193.25, "type": "quantitative", "scale": {"domain": [-0.32, 190.8], "nice": false, "zero": false}, "axis": null},
  "y": {"field": "lv", "type": "quantitative", "scale": {"domain": [-3.88, 105.83], "nice": false, "zero": false}}, "text": {"field": "t", "type": "nominal"}}},
{"data": {"values": [{"lv": 0}]}, "mark": {"type": "point", "shape": "M-1,-0.0833L1,-0.0833L1,0.0833L-1,0.0833Z", "size": 24336, "filled": true, "opacity": 1, "strokeWidth": 0, "fill": "#FFFFFF"},
 "encoding": {"x": {"datum": 180.78, "type": "quantitative", "scale": {"domain": [-0.32, 190.8], "nice": false, "zero": false}, "axis": null},
  "y": {"field": "lv", "type": "quantitative", "scale": {"domain": [-3.88, 105.83], "nice": false, "zero": false}}}},
{"data": {"values": [{"lv": 0, "t": "FXCM Marketscope © 2018"}]}, "mark": {"type": "text", "font": "DejaVu Sans", "fontSize": 11, "align": "right", "baseline": "middle", "color": "#3A3A8C"},
 "encoding": {"x": {"datum": 190.7, "type": "quantitative", "scale": {"domain": [-0.32, 190.8], "nice": false, "zero": false}, "axis": null},
  "y": {"field": "lv", "type": "quantitative", "scale": {"domain": [-3.88, 105.83], "nice": false, "zero": false}}, "text": {"field": "t", "type": "nominal"}}}
]
}
]
}
